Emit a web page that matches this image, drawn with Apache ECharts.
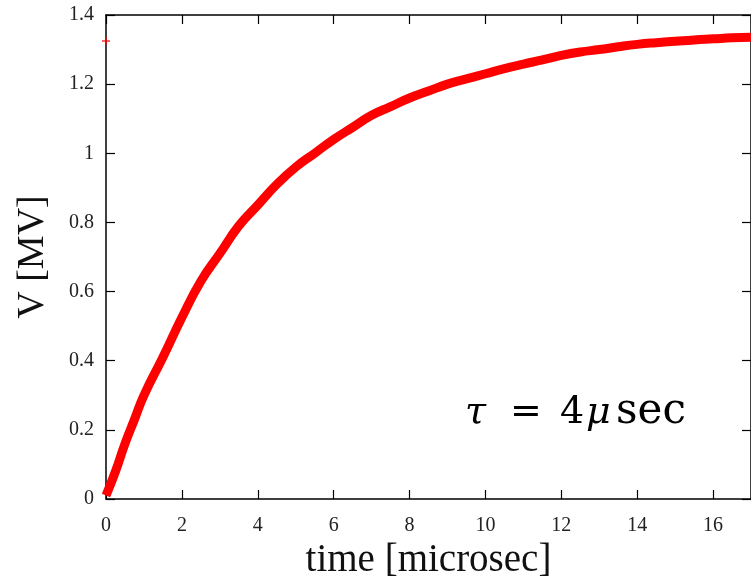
<!DOCTYPE html>
<html>
<head>
<meta charset="utf-8">
<script src="https://cdn.jsdelivr.net/npm/echarts@6/dist/echarts.min.js"></script>
<style>html,body{margin:0;padding:0;background:#fff;}#c{width:751px;height:577px;}</style>
</head>
<body>
<div id="c"></div>
<script>
// time [microsec]
var times = [0, 0.25, 0.5, 0.75, 1.0, 1.5, 2.0, 2.5, 3.0, 3.5, 4.0, 4.5, 5.0, 5.5, 6.0, 6.5, 7.0, 7.5, 8.0, 8.5, 9.0, 9.5, 10.0, 10.5, 11.0, 11.5, 12.0, 12.5, 13.0, 13.5, 14.0, 14.5, 15.0, 15.5, 16.0, 16.5, 17.0];
// V [MV]
var volts = [0.01, 0.08, 0.16, 0.23, 0.30, 0.41, 0.525, 0.63, 0.71, 0.79, 0.85, 0.91, 0.96, 1.00, 1.04, 1.075, 1.11, 1.135, 1.16, 1.18, 1.20, 1.215, 1.23, 1.245, 1.258, 1.27, 1.283, 1.293, 1.30, 1.308, 1.315, 1.32, 1.324, 1.328, 1.331, 1.334, 1.336];
// isolated point
var strayPoint = [[0, 1.325]];
var xTicks = {min: 0, max: 17, interval: 2};
var yTicks = {min: 0, max: 1.4, interval: 0.2};

var curve = times.map(function (t, i) { return [t, volts[i]]; });
var serif = '"Liberation Serif", "Times New Roman", serif';
var axisLineStyle = {show: true, onZero: false, lineStyle: {color: '#000', width: 1.5}};
var tickStyle = {show: true, inside: true, length: 9, lineStyle: {color: '#000', width: 1.2}};

var chart = echarts.init(document.getElementById('c'));
chart.setOption({
  animation: false,
  backgroundColor: '#fff',
  grid: {left: 106, right: 0, top: 15, bottom: 78, containLabel: false, outerBoundsMode: 'none'},
  xAxis: [{
    type: 'value', min: xTicks.min, max: xTicks.max, interval: xTicks.interval,
    position: 'bottom',
    axisLine: axisLineStyle, axisTick: tickStyle,
    axisLabel: {fontFamily: serif, fontSize: 20, color: '#222', margin: 17, showMaxLabel: false},
    splitLine: {show: false},
    name: 'time [microsec]', nameLocation: 'middle', nameGap: 41,
    nameTextStyle: {fontFamily: serif, fontSize: 39, color: '#111'}
  }, {
    type: 'value', min: xTicks.min, max: xTicks.max, interval: xTicks.interval,
    position: 'top',
    axisLine: axisLineStyle, axisTick: tickStyle,
    axisLabel: {show: false}, splitLine: {show: false}
  }],
  yAxis: [{
    type: 'value', min: yTicks.min, max: yTicks.max, interval: yTicks.interval,
    position: 'left',
    axisLine: axisLineStyle, axisTick: tickStyle,
    axisLabel: {fontFamily: serif, fontSize: 20, color: '#222', margin: 12},
    splitLine: {show: false},
    name: 'V [MV]', nameLocation: 'middle', nameGap: 54, nameRotate: 90,
    nameTextStyle: {fontFamily: serif, fontSize: 38, color: '#111'}
  }, {
    type: 'value', min: yTicks.min, max: yTicks.max, interval: yTicks.interval,
    position: 'right',
    axisLine: axisLineStyle, axisTick: tickStyle,
    axisLabel: {show: false}, splitLine: {show: false}
  }],
  series: [{
    type: 'line', data: curve, smooth: true, symbol: 'none',
    lineStyle: {color: '#ff0000', width: 9}
  }, {
    type: 'scatter', data: strayPoint, symbol: 'path://M4,0H6V4H10V6H6V10H4V6H0V4H4Z', symbolSize: 8,
    itemStyle: {color: '#ff0000'}, clip: false
  }],
  graphic: [
    {type: 'text', left: 465, top: 394, style: {text: 'τ', font: 'italic 38px "DejaVu Serif"', fill: '#000'}},
    {type: 'text', left: 510, top: 394, style: {text: '=', font: '38px "DejaVu Serif"', fill: '#000'}},
    {type: 'text', left: 560, top: 394, style: {text: '4', font: '38px "DejaVu Serif"', fill: '#000'}},
    {type: 'text', left: 586, top: 394, style: {text: 'μ', font: 'italic 38px "DejaVu Serif"', fill: '#000'}},
    {type: 'text', left: 616, top: 391, style: {text: 'sec', font: '42px "DejaVu Serif"', fill: '#000'}}
  ]
});
</script>
</body>
</html>
